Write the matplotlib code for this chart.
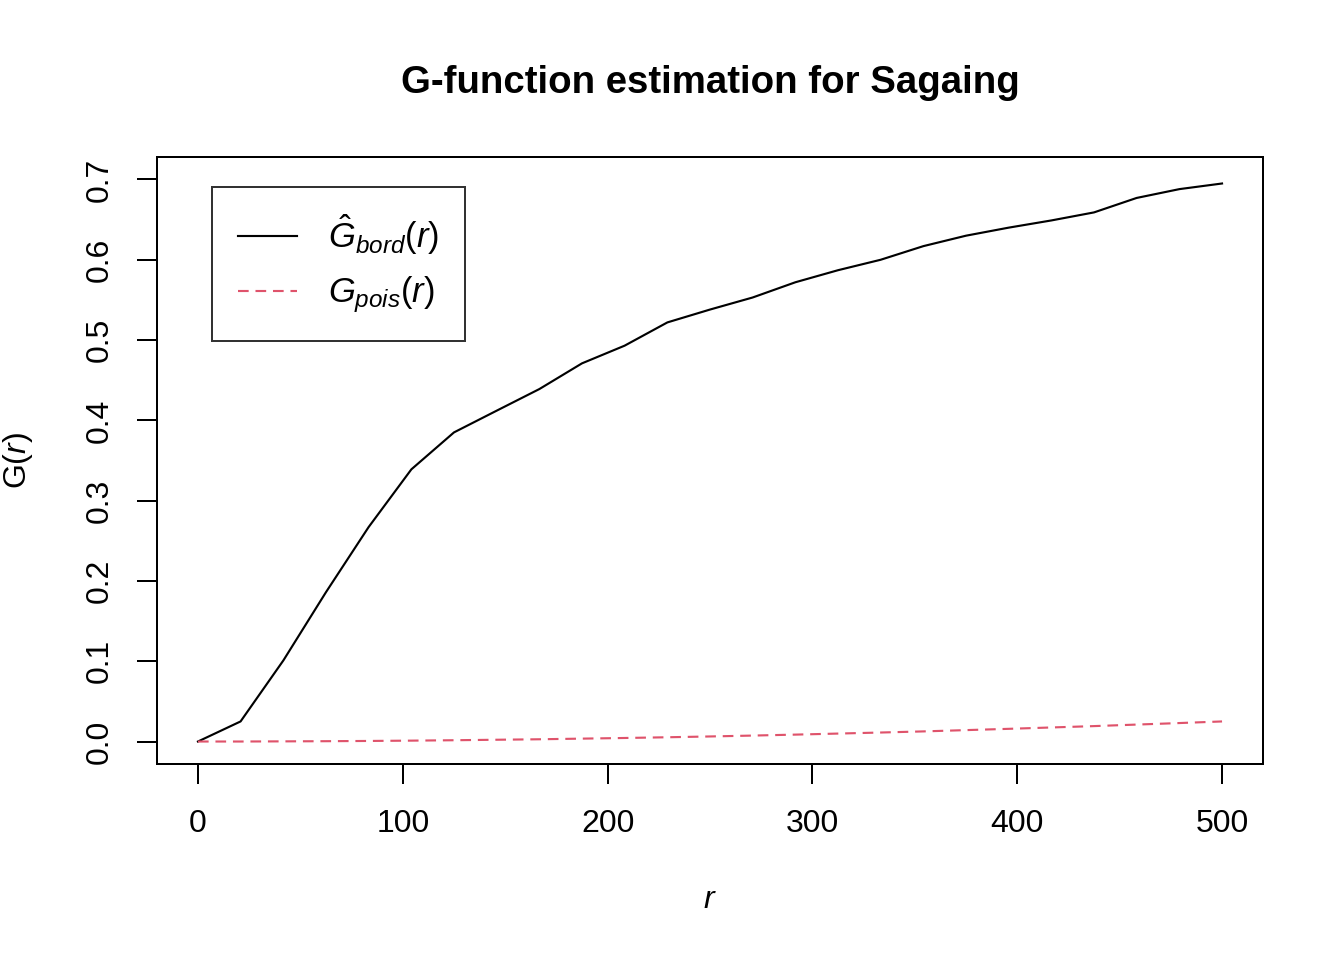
import numpy as np
import matplotlib
matplotlib.use("Agg")
import matplotlib.pyplot as plt

plt.rcParams['font.family'] = ['Liberation Sans', 'DejaVu Sans']
plt.rcParams['mathtext.fontset'] = 'custom'
plt.rcParams['mathtext.rm'] = 'Liberation Sans'
plt.rcParams['mathtext.it'] = 'Liberation Sans:italic'
plt.rcParams['mathtext.bf'] = 'Liberation Sans:bold'

# distances r (24 steps from 0 to 500)
r = [0, 20.8, 41.7, 62.5, 83.3, 104.2, 125, 145.8, 166.7, 187.5, 208.3, 229.2,
     250, 270.8, 291.7, 312.5, 333.3, 354.2, 375, 395.8, 416.7, 437.5, 458.3,
     479.2, 500]

# border-corrected estimate
g_bord = [0.0, 0.025, 0.101, 0.186, 0.267, 0.339, 0.385, 0.412, 0.439, 0.471,
          0.493, 0.522, 0.538, 0.553, 0.572, 0.587, 0.600, 0.617, 0.630, 0.640,
          0.649, 0.659, 0.677, 0.688, 0.695]

# theoretical Poisson
g_pois = [0.0, 0.0, 0.0002, 0.0004, 0.0007, 0.0011, 0.0016, 0.0022, 0.0028,
          0.0036, 0.0044, 0.0053, 0.0063, 0.0074, 0.0086, 0.0099, 0.0112,
          0.0126, 0.0142, 0.0158, 0.0175, 0.0192, 0.0211, 0.0230, 0.0250]

xticks = [0, 100, 200, 300, 400, 500]
yticks = [0.0, 0.1, 0.2, 0.3, 0.4, 0.5, 0.6, 0.7]

fig = plt.figure(figsize=(7, 5), dpi=192)
ax = fig.add_axes([157/1344, 1 - 764/960, 1106/1344, 607/960])

ax.plot(r, g_bord, color='black', lw=0.8, label=r'$\hat{G}_{bord}(r)$')
ax.plot(r, g_pois, color='#DF536B', lw=0.8, dashes=(5, 3.2),
        label=r'$G_{pois}(r)$')

ax.set_xlim(-20, 520)
ax.set_ylim(-0.028, 0.728)
ax.set_xticks(xticks)
ax.set_xticklabels([str(v) for v in xticks])
ax.set_yticks(yticks)
ax.set_yticklabels([f'{v:.1f}' for v in yticks])

for s in ax.spines.values():
    s.set_linewidth(0.75)
ax.tick_params(length=7.5, width=0.75, labelsize=12, pad=9.5)
ax.tick_params(axis='y', labelrotation=90, pad=8.5)
for lab in ax.get_yticklabels():
    lab.set_verticalalignment('center')

ax.set_xlabel(r'$r$', fontsize=12, va='center')
ax.xaxis.set_label_coords(0.5, (764 - 900) / 607)
ax.set_ylabel(r'$\mathrm{G}(r)$', fontsize=12, va='center')
ax.yaxis.set_label_coords((18 - 157) / 1106, 0.5)
ax.set_title('G-function estimation for Sagaing', fontsize=14.4,
             fontweight='bold', pad=24)

leg = ax.legend(loc='upper left', bbox_to_anchor=(0.0497, 0.9506),
                borderaxespad=0, fontsize=13, frameon=True, fancybox=False,
                handlelength=1.7, handletextpad=0.9, borderpad=0.75,
                labelspacing=0.5)
leg.get_frame().set_edgecolor('black')
leg.get_frame().set_linewidth(0.75)

fig.savefig('out.png', dpi=192)
